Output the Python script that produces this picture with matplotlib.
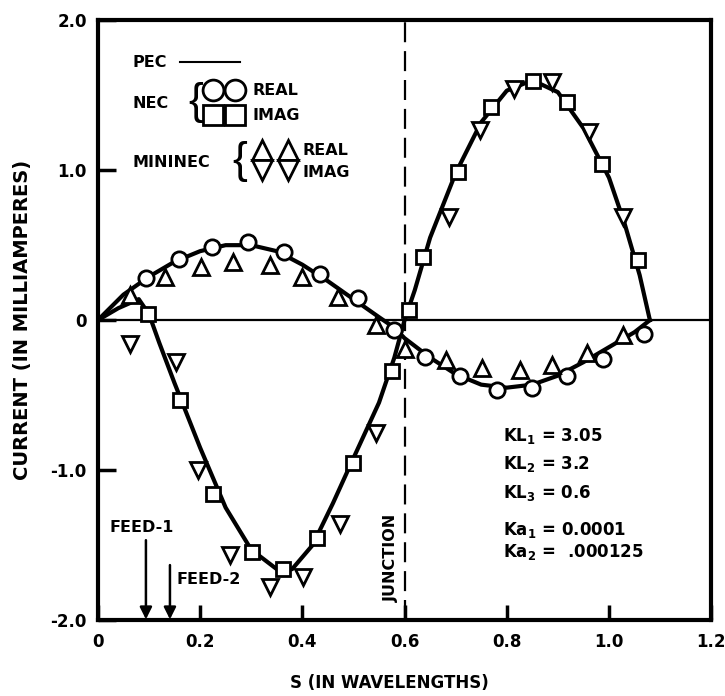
import numpy as np
import matplotlib
matplotlib.use("Agg")
import matplotlib.pyplot as plt

plt.rcParams["font.family"] = ["DejaVu Sans"]
plt.rcParams["font.weight"] = "bold"
plt.rcParams["axes.labelweight"] = "bold"
plt.rcParams["mathtext.default"] = "bf"

# PEC solution (solid curves)
pec_s = [0.0, 0.05, 0.10, 0.15, 0.20, 0.25, 0.30, 0.35, 0.40, 0.45, 0.50, 0.55,
         0.58, 0.60, 0.65, 0.70, 0.75, 0.80, 0.85, 0.90, 0.95, 1.00, 1.05, 1.08]
pec_real = [0.0, 0.17, 0.29, 0.39, 0.46, 0.50, 0.50, 0.46, 0.37, 0.26, 0.14, 0.02,
            -0.05, -0.12, -0.25, -0.36, -0.43, -0.45, -0.43, -0.37, -0.28, -0.18, -0.08, 0.0]
pec_imag_s = [0.0, 0.04, 0.08, 0.10, 0.12, 0.15, 0.20, 0.25, 0.30, 0.35, 0.38, 0.42,
              0.46, 0.50, 0.55, 0.58, 0.60, 0.62, 0.65, 0.70, 0.75, 0.80, 0.85, 0.90,
              0.95, 1.00, 1.03, 1.06, 1.08]
pec_imag = [0.0, 0.08, 0.14, 0.04, -0.15, -0.42, -0.85, -1.25, -1.53, -1.66, -1.66, -1.50,
            -1.22, -0.92, -0.55, -0.25, 0.0, 0.20, 0.55, 0.98, 1.32, 1.53, 1.60, 1.52,
            1.28, 0.95, 0.65, 0.30, 0.0]

# NEC
nec_real_s = [0.095, 0.159, 0.224, 0.294, 0.365, 0.434, 0.509, 0.579, 0.640, 0.708,
              0.780, 0.850, 0.917, 0.989, 1.068]
nec_real = [0.278, 0.411, 0.489, 0.518, 0.455, 0.311, 0.145, -0.067, -0.244, -0.375,
            -0.467, -0.455, -0.375, -0.262, -0.093]
nec_imag_s = [0.098, 0.160, 0.226, 0.301, 0.363, 0.428, 0.500, 0.575, 0.609, 0.637,
              0.705, 0.770, 0.851, 0.918, 0.987, 1.057]
nec_imag = [0.044, -0.533, -1.156, -1.544, -1.656, -1.455, -0.955, -0.338, 0.067, 0.418,
            0.989, 1.422, 1.596, 1.456, 1.044, 0.400]

# MININEC
mini_real_s = [0.063, 0.131, 0.202, 0.265, 0.337, 0.399, 0.470, 0.545, 0.601, 0.682,
               0.751, 0.826, 0.888, 0.956, 1.028]
mini_real = [0.167, 0.289, 0.356, 0.389, 0.367, 0.289, 0.155, -0.033, -0.189, -0.267,
             -0.322, -0.333, -0.300, -0.222, -0.100]
mini_imag_s = [0.063, 0.152, 0.196, 0.258, 0.337, 0.402, 0.474, 0.545, 0.686, 0.748,
               0.814, 0.888, 0.960, 1.028]
mini_imag = [-0.156, -0.28, -1.000, -1.567, -1.778, -1.711, -1.356, -0.75, 0.689, 1.267,
             1.544, 1.589, 1.256, 0.689]

x_ticks = [0, 0.2, 0.4, 0.6, 0.8, 1.0, 1.2]
x_labels = ["0", "0.2", "0.4", "0.6", "0.8", "1.0", "1.2"]
y_ticks = [-2.0, -1.0, 0, 1.0, 2.0]
y_labels = ["-2.0", "-1.0", "0", "1.0", "2.0"]

fig = plt.figure(figsize=(7.25, 6.96), dpi=100)
ax = fig.add_axes([0.135, 0.109, 0.846, 0.862])

mk = dict(linestyle="none", markerfacecolor="white", markeredgecolor="black",
          markeredgewidth=2.0, zorder=4)

ax.axhline(0, color="black", linewidth=1.6, zorder=1)
ax.axvline(0.6, color="black", linewidth=1.6, linestyle=(0, (9, 4)), zorder=1)

ax.plot(pec_s, pec_real, color="black", linewidth=3.0, zorder=3)
ax.plot(pec_imag_s, pec_imag, color="black", linewidth=3.0, zorder=3)

ax.plot(nec_real_s, nec_real, marker="o", markersize=11, **mk)
ax.plot(nec_imag_s, nec_imag, marker="s", markersize=10, **mk)
ax.plot(mini_real_s, mini_real, marker="^", markersize=12, **mk)
ax.plot(mini_imag_s, mini_imag, marker="v", markersize=12, **mk)

ax.set_xlim(0, 1.2)
ax.set_ylim(-2.0, 2.0)
ax.set_xticks(x_ticks)
ax.set_xticklabels(x_labels)
ax.set_yticks(y_ticks)
ax.set_yticklabels(y_labels)
ax.tick_params(axis="x", direction="in", length=11, width=2.5, labelsize=12, pad=9)
ax.tick_params(axis="y", direction="in", length=13, width=2.5, labelsize=12, pad=8)
for sp in ax.spines.values():
    sp.set_linewidth(3.0)

ax.set_xlabel("S (IN WAVELENGTHS)", fontsize=12, fontweight="bold")
ax.xaxis.set_label_coords(0.475, -0.09)
ax.set_ylabel("CURRENT (IN MILLIAMPERES)", fontsize=14, fontweight="bold")
ax.yaxis.set_label_coords(-0.108, 0.5)

# legend drawn by hand
lg = dict(fontsize=11.5, va="center", ha="left")
ax.text(0.068, 1.72, "PEC", **lg)
ax.plot([0.160, 0.278], [1.72, 1.72], color="black", linewidth=1.5)
ax.text(0.067, 1.447, "NEC", **lg)
ax.text(0.176, 1.45, "{", fontsize=32, fontweight="normal", va="center", ha="left",
        family="Liberation Sans")
ax.plot([0.225, 0.268], [1.533, 1.533], marker="o", markersize=15, **mk)
ax.plot([0.225, 0.268], [1.367, 1.367], marker="s", markersize=14, **mk)
ax.text(0.303, 1.533, "REAL", **lg)
ax.text(0.303, 1.367, "IMAG", **lg)
ax.text(0.068, 1.053, "MININEC", **lg)
ax.text(0.263, 1.06, "{", fontsize=32, fontweight="normal", va="center", ha="left",
        family="Liberation Sans")
ax.plot([0.321, 0.372], [1.133, 1.133], marker="^", markersize=15, **mk)
ax.plot([0.321, 0.372], [1.0, 1.0], marker="v", markersize=15, **mk)
ax.text(0.401, 1.133, "REAL", **lg)
ax.text(0.401, 0.987, "IMAG", **lg)

# feed points and junction
ax.text(0.023, -1.38, "FEED-1", fontsize=11.5, va="center", ha="left")
ax.annotate("", xy=(0.094, -1.995), xytext=(0.094, -1.467),
            arrowprops=dict(arrowstyle="-|>", color="black", lw=1.8,
                            mutation_scale=18, shrinkA=0, shrinkB=0))
ax.text(0.153, -1.727, "FEED-2", fontsize=11.5, va="center", ha="left")
ax.annotate("", xy=(0.141, -1.995), xytext=(0.141, -1.633),
            arrowprops=dict(arrowstyle="-|>", color="black", lw=1.8,
                            mutation_scale=18, shrinkA=0, shrinkB=0))
ax.text(0.575, -1.587, "JUNCTION", fontsize=11.5, rotation=90, va="center", ha="center")

# parameters
params = [r"KL$_1$ = 3.05", r"KL$_2$ = 3.2", r"KL$_3$ = 0.6",
          r"Ka$_1$ = 0.0001", r"Ka$_2$ =  .000125"]
param_y = [-0.773, -0.96, -1.153, -1.40, -1.547]
for t, yy in zip(params, param_y):
    ax.text(0.793, yy, t, fontsize=12, va="center", ha="left")

fig.savefig("out.png", dpi=100)
